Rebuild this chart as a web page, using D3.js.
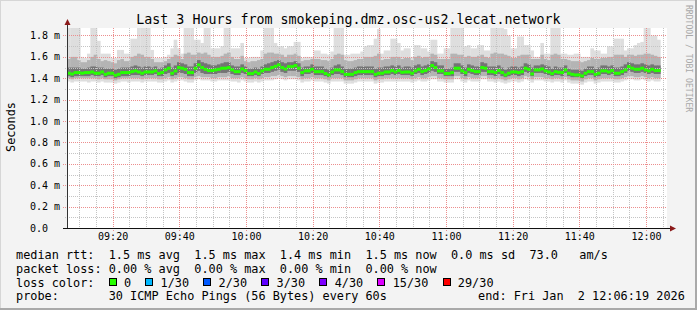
<!DOCTYPE html>
<html>
<head>
<meta charset="utf-8">
<script src="https://cdn.jsdelivr.net/npm/d3@7"></script>
<style>
  body { margin: 0; background: #f3f3f3; }
  text { font-family: "DejaVu Sans Mono", monospace; white-space: pre; }
</style>
</head>
<body>
<div id="chart"></div>
<script>
// time window and y range
var tStart = new Date(2026, 0, 2, 9, 6, 19),
    tEnd   = new Date(2026, 0, 2, 12, 6, 19),
    stepMs = 60000,
    yTop   = 1.87;

var yTicks = [0, 0.2, 0.4, 0.6, 0.8, 1.0, 1.2, 1.4, 1.6, 1.8];

// median rtt per 60s step (ms)
var median = [
  1.447,1.440,1.453,1.453,1.447,1.453,1.453,1.459,1.447,1.447,
  1.459,1.437,1.447,1.447,1.428,1.437,1.453,1.453,1.453,1.462,
  1.469,1.459,1.447,1.459,1.459,1.459,1.469,1.444,1.453,1.478,
  1.494,1.447,1.469,1.500,1.494,1.484,1.453,1.453,1.494,1.525,
  1.500,1.484,1.472,1.472,1.478,
  1.484,1.494,1.494,1.500,1.478,1.462,1.462,1.487,1.472,1.444,
  1.444,1.459,1.444,1.469,1.484,1.484,1.500,1.512,1.525,1.500,
  1.487,1.509,1.509,1.519,1.494,1.453,1.469,1.469,1.484,1.462,
  1.462,1.462,1.444,1.431,1.459,1.478,1.478,1.462,1.437,1.437,
  1.437,1.453,1.462,1.462,1.462,
  1.462,1.462,1.437,1.447,1.447,1.459,1.459,1.472,1.459,1.472,
  1.456,1.459,1.459,1.447,1.469,1.484,1.462,1.472,1.487,1.519,
  1.500,1.469,1.469,1.444,1.444,1.453,1.494,1.494,1.469,1.453,
  1.484,1.472,1.462,1.462,1.500,1.494,1.462,1.462,1.453,1.472,
  1.453,1.431,1.447,1.459,1.459,
  1.453,1.462,1.494,1.484,1.441,1.478,1.478,1.487,1.469,1.459,
  1.444,1.462,1.456,1.453,1.478,1.447,1.437,1.431,1.431,1.422,
  1.447,1.462,1.462,1.437,1.447,1.469,1.469,1.459,1.472,1.447,
  1.447,1.462,1.478,1.509,1.494,1.484,1.484,1.494,1.478,1.469,
  1.484,1.472,1.472
];

// smoke: slowest ping per step
var smokeMax = [
  1.88,1.88,1.88,1.88,1.60,1.59,1.63,1.88,1.88,1.75,
  1.63,1.63,1.63,1.59,1.59,1.665,1.665,1.63,1.63,1.77,
  1.77,1.87,1.87,1.87,1.87,1.665,1.59,1.59,1.59,1.60,
  1.62,1.68,1.76,1.68,1.63,1.87,1.87,1.87,1.76,1.76,
  1.73,1.87,1.87,1.68,1.68,
  1.68,1.70,1.87,1.87,1.68,1.68,1.68,1.73,1.59,1.59,
  1.60,1.60,1.60,1.66,1.87,1.87,1.87,1.73,1.70,1.70,
  1.68,1.70,1.70,1.74,1.74,1.59,1.60,1.60,1.60,1.66,
  1.66,1.63,1.63,1.62,1.65,1.88,1.88,1.88,1.62,1.62,
  1.63,1.63,1.63,1.65,1.70,
  1.71,1.71,1.77,1.86,1.63,1.66,1.66,1.77,1.77,1.73,
  1.66,1.68,1.68,1.60,1.71,1.71,1.68,1.68,1.65,1.76,
  1.76,1.63,1.63,1.68,1.68,1.87,1.87,1.87,1.87,1.70,
  1.71,1.68,1.68,1.71,1.71,1.66,1.66,1.87,1.87,1.87,
  1.87,1.86,1.80,1.68,1.68,
  1.79,1.79,1.71,1.71,1.66,1.60,1.60,1.73,1.63,1.63,
  1.87,1.87,1.87,1.63,1.63,1.62,1.62,1.63,1.63,1.60,
  1.60,1.60,1.68,1.66,1.66,1.63,1.63,1.70,1.70,1.77,
  1.77,1.77,1.66,1.68,1.68,1.71,1.73,1.74,1.87,1.87,
  1.80,1.80,1.76
];

var smokeP90 = [
  1.58,1.60,1.60,1.57,1.55,1.55,1.57,1.60,1.62,1.58,
  1.56,1.57,1.56,1.55,1.54,1.57,1.58,1.56,1.56,1.60,
  1.61,1.63,1.62,1.60,1.60,1.58,1.55,1.55,1.55,1.56,
  1.58,1.60,1.62,1.61,1.58,1.63,1.64,1.62,1.62,1.64,
  1.63,1.64,1.62,1.60,1.60,
  1.60,1.61,1.63,1.64,1.60,1.58,1.58,1.61,1.56,1.55,
  1.56,1.56,1.57,1.58,1.63,1.64,1.64,1.63,1.63,1.62,
  1.60,1.62,1.62,1.63,1.61,1.56,1.57,1.57,1.58,1.58,
  1.58,1.57,1.57,1.56,1.58,1.62,1.63,1.62,1.57,1.56,
  1.56,1.57,1.58,1.58,1.60,
  1.60,1.60,1.61,1.63,1.57,1.58,1.58,1.60,1.60,1.60,
  1.58,1.59,1.59,1.57,1.60,1.61,1.59,1.60,1.60,1.63,
  1.62,1.58,1.58,1.58,1.58,1.63,1.63,1.62,1.62,1.60,
  1.61,1.60,1.60,1.61,1.62,1.60,1.59,1.63,1.64,1.63,
  1.63,1.62,1.61,1.59,1.59,
  1.61,1.62,1.62,1.62,1.58,1.58,1.58,1.62,1.58,1.57,
  1.62,1.63,1.62,1.58,1.58,1.57,1.56,1.56,1.56,1.55,
  1.56,1.57,1.59,1.58,1.58,1.59,1.59,1.60,1.60,1.62,
  1.62,1.62,1.60,1.62,1.62,1.61,1.62,1.62,1.63,1.63,
  1.62,1.61,1.60
];

var smokeP75 = [
  1.50,1.50,1.50,1.50,1.49,1.49,1.50,1.51,1.51,1.50,
  1.50,1.49,1.49,1.49,1.48,1.49,1.50,1.50,1.50,1.51,
  1.52,1.51,1.50,1.51,1.51,1.50,1.51,1.49,1.50,1.52,
  1.54,1.50,1.52,1.55,1.54,1.53,1.51,1.51,1.54,1.57,
  1.55,1.54,1.53,1.52,1.52,
  1.53,1.54,1.55,1.55,1.52,1.51,1.51,1.53,1.51,1.49,
  1.49,1.50,1.49,1.51,1.53,1.54,1.55,1.56,1.57,1.55,
  1.54,1.55,1.55,1.56,1.54,1.50,1.51,1.51,1.53,1.51,
  1.51,1.51,1.49,1.48,1.50,1.52,1.53,1.51,1.49,1.49,
  1.49,1.50,1.51,1.51,1.51,
  1.51,1.51,1.49,1.50,1.50,1.51,1.51,1.52,1.51,1.52,
  1.50,1.51,1.51,1.50,1.52,1.53,1.51,1.52,1.53,1.56,
  1.55,1.52,1.52,1.49,1.49,1.50,1.54,1.54,1.52,1.50,
  1.53,1.52,1.51,1.51,1.55,1.54,1.51,1.51,1.51,1.52,
  1.50,1.48,1.50,1.51,1.51,
  1.50,1.51,1.54,1.53,1.50,1.52,1.52,1.53,1.52,1.51,
  1.49,1.51,1.50,1.50,1.52,1.49,1.48,1.48,1.48,1.47,
  1.49,1.51,1.51,1.49,1.50,1.52,1.52,1.51,1.52,1.50,
  1.50,1.51,1.53,1.55,1.54,1.53,1.53,1.54,1.53,1.52,
  1.53,1.52,1.52
];

var smokeP25 = [
  1.42,1.41,1.42,1.42,1.42,1.42,1.42,1.43,1.42,1.42,
  1.43,1.41,1.42,1.42,1.40,1.41,1.42,1.42,1.42,1.43,
  1.43,1.43,1.42,1.43,1.43,1.43,1.44,1.42,1.42,1.44,
  1.45,1.42,1.43,1.45,1.45,1.44,1.42,1.42,1.45,1.47,
  1.45,1.44,1.44,1.44,1.44,
  1.45,1.45,1.45,1.46,1.44,1.43,1.43,1.45,1.44,1.42,
  1.42,1.43,1.42,1.44,1.45,1.45,1.46,1.47,1.48,1.46,
  1.45,1.47,1.47,1.47,1.46,1.42,1.44,1.44,1.45,1.43,
  1.43,1.43,1.42,1.41,1.43,1.44,1.44,1.43,1.41,1.41,
  1.41,1.42,1.43,1.43,1.43,
  1.43,1.43,1.41,1.42,1.42,1.43,1.43,1.44,1.43,1.44,
  1.43,1.43,1.43,1.42,1.44,1.45,1.43,1.44,1.45,1.47,
  1.46,1.44,1.44,1.42,1.42,1.42,1.46,1.46,1.44,1.42,
  1.45,1.44,1.43,1.43,1.46,1.46,1.43,1.43,1.42,1.44,
  1.42,1.41,1.42,1.43,1.43,
  1.42,1.43,1.46,1.45,1.42,1.45,1.45,1.45,1.44,1.43,
  1.42,1.43,1.43,1.42,1.45,1.42,1.41,1.41,1.41,1.40,
  1.42,1.43,1.43,1.41,1.42,1.44,1.44,1.43,1.44,1.42,
  1.42,1.43,1.45,1.47,1.46,1.45,1.45,1.46,1.45,1.44,
  1.45,1.44,1.44
];

var smokeP10 = [
  1.40,1.39,1.40,1.40,1.40,1.40,1.40,1.40,1.40,1.39,
  1.40,1.39,1.39,1.39,1.38,1.39,1.40,1.40,1.40,1.40,
  1.40,1.40,1.39,1.40,1.40,1.40,1.40,1.39,1.39,1.40,
  1.41,1.39,1.40,1.41,1.41,1.40,1.39,1.39,1.41,1.42,
  1.41,1.41,1.41,1.40,1.40,
  1.41,1.41,1.41,1.42,1.40,1.40,1.40,1.41,1.40,1.39,
  1.39,1.40,1.39,1.40,1.41,1.41,1.42,1.42,1.43,1.42,
  1.41,1.42,1.42,1.42,1.41,1.39,1.40,1.40,1.41,1.40,
  1.40,1.40,1.39,1.38,1.40,1.40,1.40,1.40,1.38,1.38,
  1.38,1.39,1.40,1.40,1.40,
  1.40,1.40,1.38,1.39,1.39,1.40,1.40,1.40,1.40,1.40,
  1.40,1.40,1.40,1.39,1.40,1.41,1.40,1.40,1.41,1.42,
  1.42,1.40,1.40,1.39,1.39,1.39,1.42,1.42,1.40,1.39,
  1.41,1.40,1.40,1.40,1.42,1.42,1.40,1.40,1.39,1.40,
  1.39,1.38,1.39,1.40,1.40,
  1.39,1.40,1.42,1.41,1.39,1.41,1.41,1.41,1.40,1.40,
  1.39,1.40,1.40,1.39,1.41,1.39,1.38,1.38,1.38,1.37,
  1.39,1.40,1.40,1.38,1.39,1.40,1.40,1.40,1.40,1.39,
  1.39,1.40,1.41,1.42,1.42,1.41,1.41,1.42,1.41,1.40,
  1.41,1.40,1.40
];

// smoke: fastest ping per step
var smokeMin = [
  1.37,1.36,1.37,1.37,1.37,1.37,1.36,1.37,1.37,1.36,
  1.37,1.36,1.36,1.36,1.35,1.36,1.37,1.37,1.36,1.37,
  1.37,1.37,1.36,1.37,1.37,1.37,1.37,1.36,1.36,1.37,
  1.38,1.36,1.37,1.38,1.38,1.37,1.36,1.36,1.38,1.39,
  1.38,1.38,1.38,1.37,1.37,
  1.38,1.38,1.38,1.38,1.37,1.37,1.36,1.38,1.37,1.36,
  1.36,1.37,1.36,1.37,1.38,1.38,1.38,1.39,1.40,1.39,
  1.38,1.39,1.39,1.39,1.38,1.36,1.37,1.37,1.38,1.37,
  1.37,1.37,1.36,1.35,1.37,1.37,1.37,1.37,1.35,1.35,
  1.35,1.36,1.37,1.37,1.37,
  1.37,1.37,1.35,1.36,1.36,1.37,1.37,1.37,1.37,1.37,
  1.37,1.37,1.37,1.36,1.37,1.38,1.37,1.37,1.38,1.39,
  1.39,1.37,1.37,1.36,1.36,1.36,1.39,1.39,1.37,1.36,
  1.38,1.37,1.37,1.37,1.39,1.39,1.37,1.37,1.36,1.37,
  1.36,1.35,1.36,1.37,1.37,
  1.36,1.37,1.39,1.38,1.36,1.38,1.38,1.38,1.37,1.37,
  1.36,1.37,1.37,1.36,1.38,1.36,1.35,1.35,1.35,1.34,
  1.36,1.37,1.37,1.35,1.36,1.37,1.37,1.37,1.37,1.36,
  1.36,1.37,1.38,1.39,1.39,1.38,1.38,1.39,1.38,1.37,
  1.38,1.37,1.37
];

// legend
var lossLabels = ["0", "1/30", "2/30", "3/30", "4/30", "15/30", "29/30"];
var lossColors = ["#26ff00", "#00b8ff", "#0059ff", "#5e00ff", "#7e00ff", "#dd00ff", "#ff0000"];
var legendLines = [
  "median rtt:  1.5 ms avg  1.5 ms max  1.4 ms min  1.5 ms now  0.0 ms sd  73.0   am/s",
  "packet loss: 0.00 % avg  0.00 % max  0.00 % min  0.00 % now",
  "loss color:",
  "probe:       30 ICMP Echo Pings (56 Bytes) every 60s"
];
var endLabel = "end: Fri Jan  2 12:06:19 2026";
var title = "Last 3 Hours from smokeping.dmz.osc-us2.lecat.network";

var W = 697, H = 310,
    plot = {left: 67, right: 667, top: 28, bottom: 228},
    cw = 7.14, legFont = 11.85;

var svg = d3.select("#chart").append("svg")
    .attr("width", W).attr("height", H);

// canvas + border
svg.append("rect").attr("width", W).attr("height", H).attr("fill", "#f3f3f3");
svg.append("rect").attr("x", 0).attr("y", 0).attr("width", W).attr("height", 1).attr("fill", "#d6d6d6");
svg.append("rect").attr("x", 0).attr("y", 0).attr("width", 1).attr("height", H).attr("fill", "#d6d6d6");
svg.append("rect").attr("x", W - 2).attr("y", 0).attr("width", 2).attr("height", H).attr("fill", "#a9a9a9");
svg.append("rect").attr("x", 0).attr("y", H - 2).attr("width", W).attr("height", 2).attr("fill", "#a9a9a9");

svg.append("rect")
    .attr("x", plot.left).attr("y", plot.top)
    .attr("width", plot.right - plot.left).attr("height", plot.bottom - plot.top)
    .attr("fill", "#ffffff");

var x = d3.scaleTime().domain([tStart, tEnd]).range([plot.left, plot.right]);
var y = d3.scaleLinear().domain([0, yTop]).range([plot.bottom, plot.top]);

function tAt(i) { return new Date(tStart.getTime() + i * stepMs); }
function yc(v) { return y(Math.min(v, yTop)); }

var steps = d3.range(median.length);

// smoke bands, outer to inner
var bands = [
  {lo: smokeMin, hi: smokeMax, color: "#dedede"},
  {lo: smokeP10, hi: smokeP90, color: "#b4b4b4"},
  {lo: smokeP25, hi: smokeP75, color: "#747474"}
];

var smoke = svg.append("g").attr("class", "smoke");
bands.forEach(function(b) {
  smoke.append("g").selectAll("rect")
    .data(steps)
    .enter().append("rect")
    .attr("x", function(i) { return x(tAt(i)); })
    .attr("width", function(i) { return x(tAt(i + 1)) - x(tAt(i)) + 0.3; })
    .attr("y", function(i) { return yc(b.hi[i]); })
    .attr("height", function(i) { return yc(b.lo[i]) - yc(b.hi[i]); })
    .attr("fill", b.color);
});

// grid: dotted lines built from 1px squares, on top of smoke like rrdtool
var hLines = d3.range(1, 19).map(function(k) { return {v: k / 10, major: k % 2 === 0}; });
var vLines = x.ticks(d3.timeMinute.every(5)).map(function(d) { return {t: d, major: d.getMinutes() % 20 === 0}; });

function dotsH(py, x0, x1) {
  var s = "";
  for (var px = x0; px < x1; px += 2) s += "M" + px + "," + py + "h1v1h-1z";
  return s;
}
function dotsV(px, y0, y1) {
  var s = "";
  for (var py = y0; py < y1; py += 2) s += "M" + px + "," + py + "h1v1h-1z";
  return s;
}
var minorPath = "", majorPath = "";
hLines.forEach(function(d) {
  var p = dotsH(Math.round(y(d.v)), d.major ? plot.left - 4 : plot.left - 2, plot.right);
  if (d.major) majorPath += p; else minorPath += p;
});
vLines.forEach(function(d) {
  var p = dotsV(Math.round(x(d.t)), plot.top, plot.bottom + (d.major ? 3 : 2));
  if (d.major) majorPath += p; else minorPath += p;
});
var grid = svg.append("g").attr("class", "grid").attr("shape-rendering", "crispEdges");
grid.append("path").attr("d", minorPath).attr("fill", "#c4c4c4");
grid.append("path").attr("d", majorPath).attr("fill", "#ec8e8e");

// median, drawn as green blocks (loss 0/30)
svg.append("g").selectAll("rect")
    .data(steps)
    .enter().append("rect")
    .attr("x", function(i) { return x(tAt(i)); })
    .attr("width", function(i) { return x(tAt(i + 1)) - x(tAt(i)) + 0.3; })
    .attr("y", function(i) { return y(median[i]) - 1.5; })
    .attr("height", 3)
    .attr("fill", lossColors[0]);

// axes lines + arrows
var ax = svg.append("g").attr("shape-rendering", "crispEdges");
ax.append("line").attr("x1", plot.left + 0.5).attr("x2", plot.left + 0.5)
    .attr("y1", plot.bottom).attr("y2", plot.top - 5).attr("stroke", "#333");
ax.append("line").attr("x1", plot.left - 4).attr("x2", plot.right + 4)
    .attr("y1", plot.bottom + 0.5).attr("y2", plot.bottom + 0.5).attr("stroke", "#111");
svg.append("path")
    .attr("d", "M" + (plot.left - 2.5) + "," + (plot.top - 3) + "L" + (plot.left + 3.5) + "," + (plot.top - 3) + "L" + (plot.left + 0.5) + "," + (plot.top - 9) + "Z")
    .attr("fill", "#8b1a1a");
svg.append("path")
    .attr("d", "M" + (plot.right + 3) + "," + (plot.bottom - 2.5) + "L" + (plot.right + 3) + "," + (plot.bottom + 3.5) + "L" + (plot.right + 9) + "," + (plot.bottom + 0.5) + "Z")
    .attr("fill", "#8b1a1a");

// y tick labels
svg.append("g").selectAll("text")
    .data(yTicks).enter().append("text")
    .attr("x", 30)
    .attr("y", function(d) { return y(d); })
    .attr("dy", "0.35em")
    .attr("font-size", "10px")
    .attr("fill", "#000")
    .text(function(d) { return d === 0 ? "0.0" : d3.format(".1f")(d) + " m"; });

// x tick labels via axis
var xAxis = d3.axisBottom(x)
    .ticks(d3.timeMinute.every(20))
    .tickFormat(d3.timeFormat("%H:%M"))
    .tickSize(0).tickPadding(0);
var gx = svg.append("g").attr("transform", "translate(0," + (plot.bottom + 5) + ")").call(xAxis);
gx.select(".domain").remove();
gx.selectAll(".tick line").remove();
gx.selectAll("text")
    .attr("font-family", "DejaVu Sans Mono, monospace")
    .attr("font-size", "10px")
    .attr("fill", "#000")
    .attr("dy", "0.71em");

// title
svg.append("text")
    .attr("x", W / 2).attr("y", 23.5)
    .attr("text-anchor", "middle")
    .attr("font-size", "13.3px")
    .attr("fill", "#000")
    .text(title);

// y axis title
svg.append("text")
    .attr("transform", "translate(14.5,127) rotate(-90)")
    .attr("text-anchor", "middle")
    .attr("font-size", legFont + "px")
    .attr("fill", "#000")
    .text("Seconds");

// watermark
svg.append("text")
    .attr("transform", "translate(685.5,5) rotate(90)")
    .attr("font-size", "8.1px")
    .attr("fill", "#a8a8a8")
    .text("RRDTOOL / TOBI OETIKER");

// legend text
var legY = [258.6, 272.6, 286.6, 300.2];
svg.append("g").selectAll("text")
    .data(legendLines).enter().append("text")
    .attr("x", 16)
    .attr("y", function(d, i) { return legY[i]; })
    .attr("font-size", legFont + "px")
    .attr("fill", "#000")
    .text(function(d) { return d; });

svg.append("text")
    .attr("x", 478).attr("y", legY[3])
    .attr("font-size", legFont + "px")
    .attr("fill", "#000")
    .text(endLabel);

// loss color boxes
var bx = 108.7, boxes = [];
lossLabels.forEach(function(l, i) {
  boxes.push({x: bx, label: l, color: lossColors[i]});
  bx = bx + 15.2 + l.length * cw + 2 * cw;
});
var lg = svg.append("g");
lg.selectAll("rect").data(boxes).enter().append("rect")
    .attr("x", function(d) { return Math.round(d.x) + 0.5; })
    .attr("y", 278.5)
    .attr("width", 7).attr("height", 7)
    .attr("fill", function(d) { return d.color; })
    .attr("stroke", "#000");
lg.selectAll("text").data(boxes).enter().append("text")
    .attr("x", function(d) { return d.x + 15.2; })
    .attr("y", legY[2])
    .attr("font-size", legFont + "px")
    .attr("fill", "#000")
    .text(function(d) { return d.label; });
</script>
</body>
</html>
